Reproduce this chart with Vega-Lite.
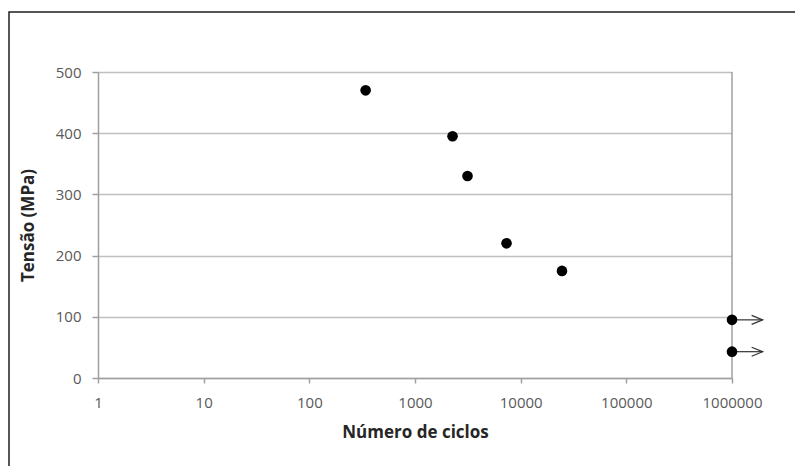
{
  "$schema": "https://vega.github.io/schema/vega-lite/v6.json",
  "width": 790,
  "height": 460,
  "autosize": {"type": "none"},
  "padding": {"left": 9, "top": 12, "right": 0, "bottom": 0},
  "background": "white",
  "config": {
    "view": {"stroke": "#1f1f1f", "strokeWidth": 1.5},
    "font": "Open Sans"
  },
  "datasets": {
    "ensaios": [
      {"n": 341, "t": 470},
      {"n": 2266, "t": 395},
      {"n": 3140, "t": 330},
      {"n": 7345, "t": 220},
      {"n": 24600, "t": 175},
      {"n": 1000000, "t": 95},
      {"n": 1000000, "t": 43}
    ],
    "setas": [
      {"n": 1000000, "n2": 1950000, "t": 95},
      {"n": 1000000, "n2": 1950000, "t": 43}
    ],
    "pontas": [
      {"n": 1950000, "t": 95},
      {"n": 1950000, "t": 43}
    ],
    "limite": [
      {"n": 1000000, "t": 0, "t2": 500}
    ]
  },
  "encoding": {
    "x": {
      "field": "n",
      "type": "quantitative",
      "scale": {"type": "log", "domain": [1, 1000000], "range": [89, 723], "nice": false},
      "axis": {
        "title": "Número de ciclos",
        "orient": "bottom",
        "offset": -94,
        "values": [1, 10, 100, 1000, 10000, 100000, 1000000],
        "format": "d",
        "labelFont": "Open Sans",
        "labelFontSize": 15,
        "labelColor": "#595959",
        "labelPadding": 12,
        "labelFlush": false,
        "labelOverlap": false,
        "tickSize": 5,
        "tickColor": "#a0a0a0",
        "tickWidth": 1.5,
        "domainColor": "#a0a0a0",
        "domainWidth": 1.5,
        "grid": false,
        "titleFont": "Open Sans",
        "titleFontWeight": "bold",
        "titleFontSize": 17,
        "titleColor": "#262626",
        "titlePadding": 14
      }
    },
    "y": {
      "field": "t",
      "type": "quantitative",
      "scale": {"domain": [0, 500], "range": [366, 60], "nice": false, "zero": false},
      "axis": {
        "title": "Tensão (MPa)",
        "orient": "left",
        "offset": -89,
        "values": [0, 100, 200, 300, 400, 500],
        "labelFont": "Open Sans",
        "labelFontSize": 15,
        "labelColor": "#595959",
        "labelPadding": 11,
        "tickSize": 6,
        "tickColor": "#a0a0a0",
        "tickWidth": 1.5,
        "domainColor": "#a0a0a0",
        "domainWidth": 1.5,
        "grid": true,
        "gridColor": "#c0c0c0",
        "gridWidth": 1.5,
        "titleFont": "Open Sans",
        "titleFontWeight": "bold",
        "titleFontSize": 17,
        "titleColor": "#262626",
        "titlePadding": 18
      }
    }
  },
  "layer": [
    {
      "data": {"name": "limite"},
      "mark": {"type": "rule", "color": "#a0a0a0", "strokeWidth": 1.5},
      "encoding": {"y2": {"field": "t2"}}
    },
    {
      "data": {"name": "setas"},
      "mark": {"type": "rule", "color": "#333333", "strokeWidth": 1.2},
      "encoding": {"x2": {"field": "n2"}}
    },
    {
      "data": {"name": "pontas"},
      "mark": {"type": "point", "shape": "M-2.2,-0.9L0,0L-2.2,0.9", "size": 100, "filled": false, "stroke": "#333333", "strokeWidth": 1.2, "opacity": 1}
    },
    {
      "data": {"name": "ensaios"},
      "mark": {"type": "point", "shape": "circle", "filled": true, "size": 113, "color": "#000000", "opacity": 1}
    }
  ]
}
